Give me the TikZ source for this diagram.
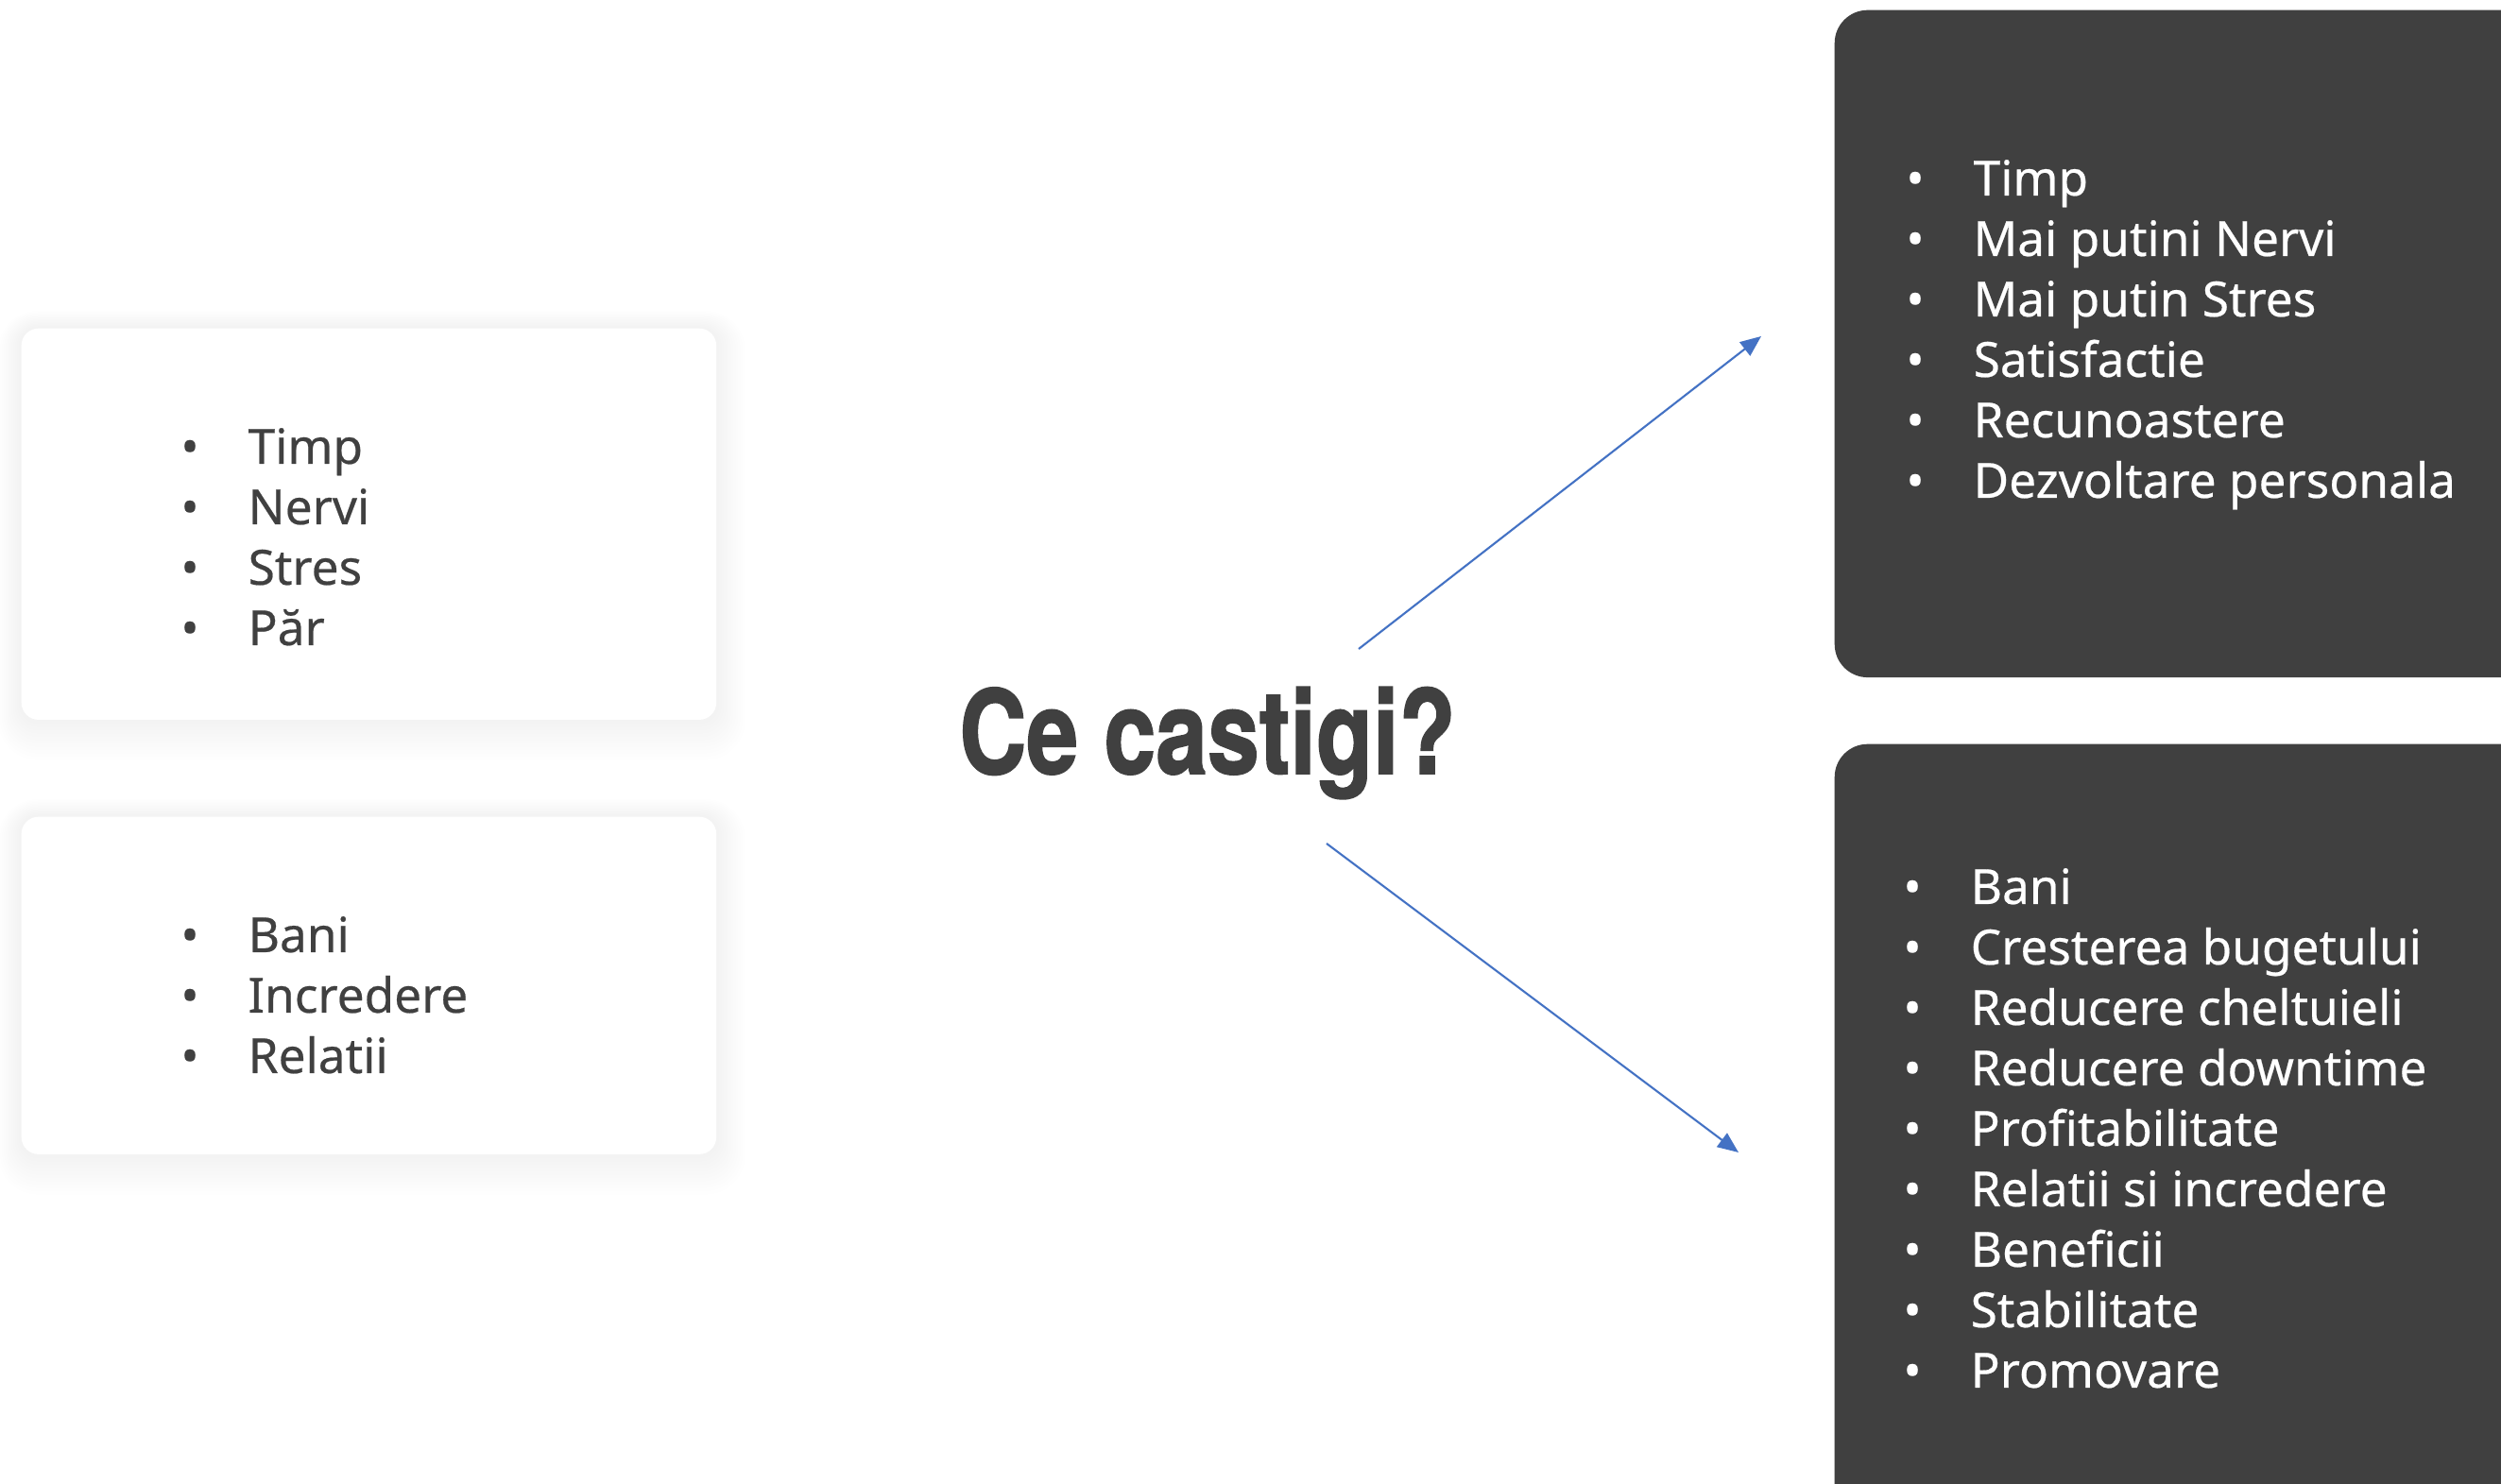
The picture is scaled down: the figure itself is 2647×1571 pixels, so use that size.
\documentclass[tikz,border=0pt]{standalone}
\usepackage{fontspec}
\setmainfont{Noto Sans}[FakeBold=0.4]
\newfontfamily\titlefont{TeX Gyre Heros}[BoldFeatures={FakeBold=1.5}]
\usetikzlibrary{arrows.meta,backgrounds}
\definecolor{darkgrey}{HTML}{404040}
\definecolor{arrowblue}{HTML}{4472C4}
\newcommand{\bulletitem}[1]{\makebox[0pt][r]{\textbullet\hspace{0.52cm}}#1}

\begin{document}
\begin{tikzpicture}[x=0.01cm,y=-0.01cm,
    lightcard/.style={fill=white,rounded corners=0.18cm,anchor=north west},
    darkcard/.style={fill=darkgrey,rounded corners=0.35cm,anchor=north west},
    darkitem/.style={anchor=base west,inner sep=0pt,
      font=\fontsize{14.6}{18}\selectfont,text=darkgrey},
    lightitem/.style={darkitem,text=white},
    gain/.style={draw=arrowblue,line width=0.6pt,
      -{Triangle[length=0.22cm,width=0.18cm]}}]
\useasboundingbox (0,0) rectangle (2647,1571);
\node [lightcard,minimum width=7.35cm,minimum height=4.14cm] (lost) at (22,347) {};
\node [lightcard,minimum width=7.35cm,minimum height=3.57cm] (risk) at (22,864) {};
\node [darkcard,minimum width=7.9cm,minimum height=7.06cm] (gainpers) at (1941,10) {};
\node [darkcard,minimum width=7.9cm,minimum height=8.7cm] (gainfirm) at (1941,787) {};
\begin{scope}[on background layer]
  \fill [white] (0,0) rectangle (2647,1571);
  \foreach \card in {lost,risk}
    \foreach \k in {1,...,12}
      \fill [black,opacity=0.005,rounded corners=0.18cm+\k*0.02cm]
        ([shift={(-2*\k,-1.5*\k)}]\card.north west) rectangle
        ([shift={(2.5*\k,3.5*\k)}]\card.south east);
\end{scope}
\foreach \txt [count=\i from 0] in {Timp,Nervi,Stres,Păr}
  \node [darkitem] (lost-\i) at (262,491+64*\i) {\bulletitem{\txt}};
\foreach \txt [count=\i from 0] in {Bani,Incredere,Relatii}
  \node [darkitem] (risk-\i) at (262,1008+64*\i) {\bulletitem{\txt}};
\foreach \txt [count=\i from 0] in {Timp,Mai putini Nervi,Mai putin Stres,
    Satisfactie,Recunoastere,Dezvoltare personala}
  \node [lightitem] (pers-\i) at (2088,207+64*\i) {\bulletitem{\txt}};
\foreach \txt [count=\i from 0] in {Bani,Cresterea bugetului,
    Reducere cheltuieli,Reducere downtime,Profitabilitate,
    Relatii si incredere,Beneficii,Stabilitate,Promovare}
  \node [lightitem] (firm-\i) at (2085,957+64*\i) {\bulletitem{\txt}};
\node [anchor=base,inner sep=0pt,text=darkgrey,
    font=\titlefont\bfseries\fontsize{35}{40}\selectfont] (title) at (1278,819)
    {\scalebox{0.8}[1]{Ce castigi?}};
\coordinate (upstart) at (1438,687);
\coordinate (upend) at (1864,356);
\coordinate (downstart) at (1404,893);
\coordinate (downend) at (1840,1220);
\draw [gain] (upstart) -- (upend);
\draw [gain] (downstart) -- (downend);
\end{tikzpicture}
\end{document}
